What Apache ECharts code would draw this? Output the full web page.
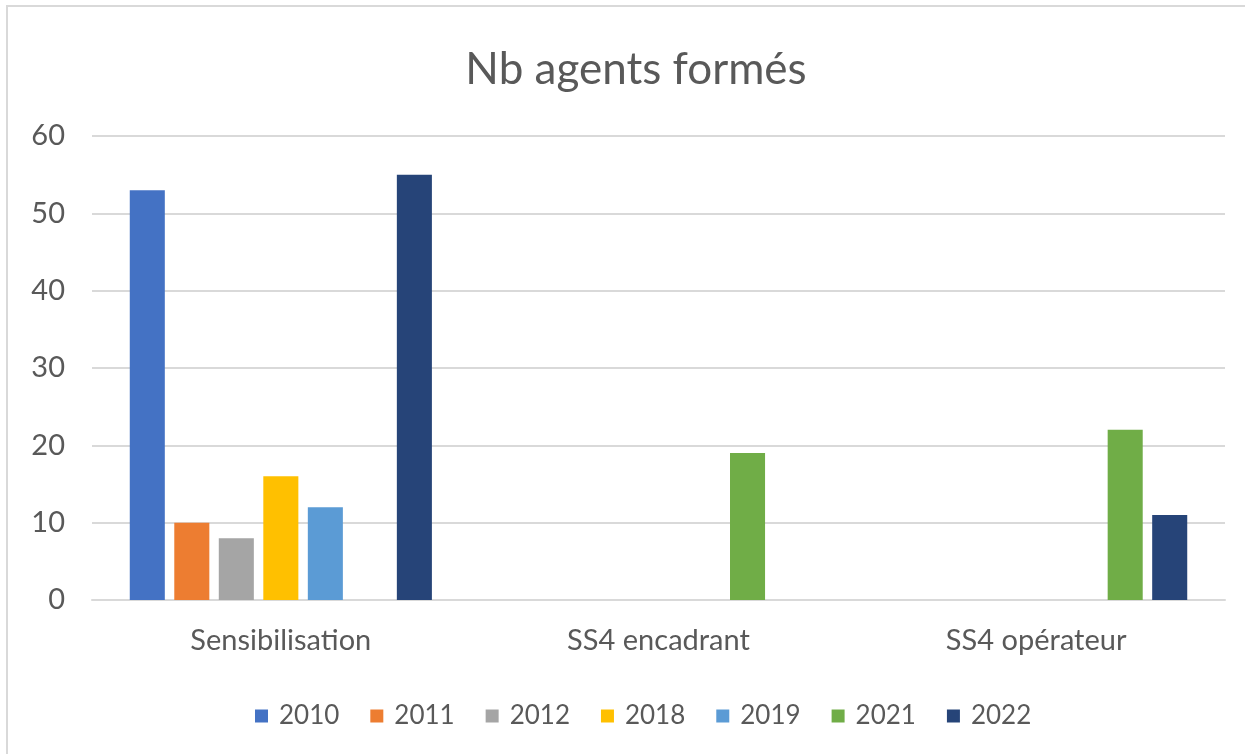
<!DOCTYPE html>
<html>
<head>
<meta charset="utf-8">
<script src="https://cdn.jsdelivr.net/npm/echarts@6/dist/echarts.min.js"></script>
<style>
html,body{margin:0;padding:0;background:#fff;}
#chart{width:1245px;height:754px;}
</style>
</head>
<body>
<div id="chart"></div>
<script>
const titleText = 'Nb agents formés';
const categories = ['Sensibilisation', 'SS4 encadrant', 'SS4 opérateur'];
const seriesNames = ['2010', '2011', '2012', '2018', '2019', '2021', '2022'];
const s2010 = [53, null, null];
const s2011 = [10, null, null];
const s2012 = [8, null, null];
const s2018 = [16, null, null];
const s2019 = [12, null, null];
const s2021 = [null, 19, 22];
const s2022 = [55, null, 11];
const seriesValues = [s2010, s2011, s2012, s2018, s2019, s2021, s2022];
const colors = ['#4472C4', '#ED7D31', '#A5A5A5', '#FFC000', '#5B9BD5', '#70AD47', '#264478'];
const yTicks = [0, 10, 20, 30, 40, 50, 60];

const font = 'Lato, "Liberation Sans", sans-serif';
const textColor = '#595959';

const chart = echarts.init(document.getElementById('chart'), null, {renderer: 'canvas'});
chart.setOption({
  animation: false,
  color: colors,
  graphic: [
    {type: 'rect', shape: {x: 7, y: 6, width: 1260, height: 780},
     style: {fill: 'none', stroke: '#D9D9D9', lineWidth: 2}, silent: true},
    {type: 'text', x: 636, y: 70,
     style: {text: titleText, fill: textColor, font: '44px ' + font, textAlign: 'center', textVerticalAlign: 'middle'}}
  ],
  legend: {
    data: seriesNames,
    left: 250, top: 698,
    itemWidth: 13, itemHeight: 13, itemGap: 31,
    icon: 'rect',
    textStyle: {color: textColor, fontSize: 26, fontFamily: font, padding: [0, 0, 0, 6]}
  },
  grid: {left: 92, right: 20, top: 136, bottom: 154, containLabel: false},
  xAxis: {
    type: 'category',
    data: categories,
    axisTick: {show: false},
    axisLine: {show: true, lineStyle: {color: '#D9D9D9', width: 2}},
    axisLabel: {color: textColor, fontSize: 29, fontFamily: font, margin: 26}
  },
  yAxis: {
    type: 'value',
    min: yTicks[0], max: yTicks[yTicks.length - 1], interval: 10,
    axisLine: {show: false},
    axisTick: {show: false},
    splitLine: {lineStyle: {color: '#D9D9D9', width: 2}},
    axisLabel: {color: textColor, fontSize: 29, fontFamily: font, margin: 27}
  },
  series: seriesNames.map((n, i) => ({
    name: n,
    type: 'bar',
    data: seriesValues[i],
    barGap: '27%',
    barCategoryGap: '20%',
    itemStyle: {color: colors[i]}
  }))
});
</script>
</body>
</html>
